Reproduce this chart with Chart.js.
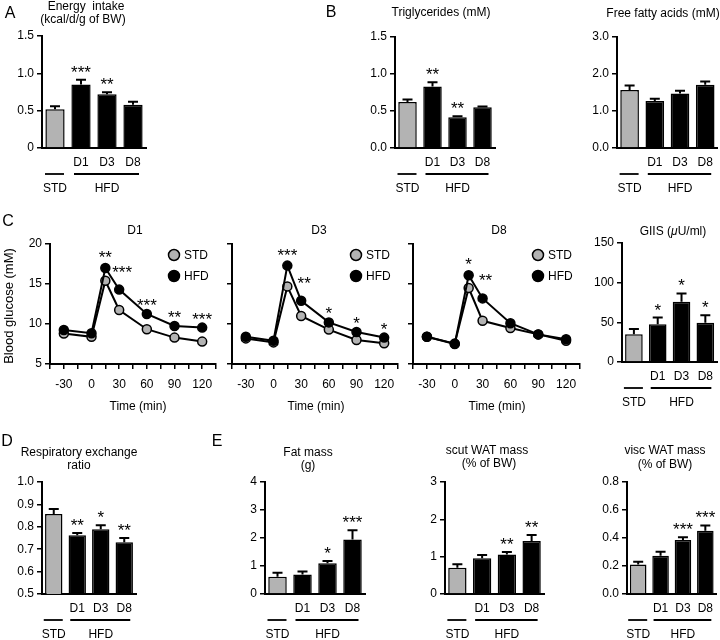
<!DOCTYPE html>
<html><head><meta charset="utf-8">
<script src="https://cdn.jsdelivr.net/npm/chart.js@4/dist/chart.umd.min.js"></script>
<style>
html,body{margin:0;padding:0;background:#fff;}
#wrap{position:relative;width:720px;height:640px;overflow:hidden;font-family:'Liberation Sans',Arial,Helvetica,sans-serif;color:#000;}
canvas{position:absolute;left:0;top:0;}
.t{position:absolute;white-space:nowrap;line-height:1;transform:translate(-50%,-50%);font-size:12px;}
.L{font-size:16px;}
</style></head><body><div id="wrap"></div>
<script>
// ---------- categories / tick labels ----------
const groups = ['STD', 'D1', 'D3', 'D8'];
const xTickLabels = ['', 'D1', 'D3', 'D8'];
const groupSpans = [['STD', 0, 0], ['HFD', 1, 3]];
const seriesNames = ['STD', 'HFD'];
const times = [-30, 0, 15, 30, 60, 90, 120];
const timeAxisTicks = [-45, -30, -15, 0, 15, 30, 45, 60, 75, 90, 105, 120, 135];
const timeTickLabels = ['', '-30', '', '0', '', '30', '', '60', '', '90', '', '120', ''];
const glucoseTicks = [5, 10, 15, 20];
const glucoseTickLabels = ['5', '10', '15', '20'];

// ---------- A: energy intake ----------
const energyIntake = [0.52, 0.85, 0.72, 0.58];
const energyIntakeErr = [0.04, 0.065, 0.025, 0.04];
const energyIntakeSig = ['', '***', '**', ''];
const energyTicks = [0, 0.5, 1.0, 1.5];
const energyTickLabels = ['0', '0.5', '1.0', '1.5'];

// ---------- B: triglycerides / FFA ----------
const triglycerides = [0.62, 0.83, 0.415, 0.55];
const triglyceridesErr = [0.035, 0.06, 0.015, 0.01];
const triglyceridesSig = ['', '**', '**', ''];
const tgTicks = [0, 0.5, 1.0, 1.5];
const tgTickLabels = ['0.0', '0.5', '1.0', '1.5'];

const ffa = [1.57, 1.27, 1.47, 1.71];
const ffaErr = [0.12, 0.06, 0.08, 0.09];
const ffaSig = ['', '', '', ''];
const ffaTicks = [0, 1, 2, 3];
const ffaTickLabels = ['0.0', '1.0', '2.0', '3.0'];

// ---------- C: glucose tolerance ----------
const d1Std = [8.8, 8.4, 15.4, 11.75, 9.35, 8.3, 7.8];
const d1Hfd = [9.25, 8.85, 17.0, 14.3, 11.25, 9.75, 9.55];
const d1Sig = ['', '', '**', '***', '***', '**', '***'];
const d3Std = [8.2, 7.7, 14.7, 11.0, 9.3, 8.0, 7.6];
const d3Hfd = [8.4, 7.9, 17.3, 12.9, 10.2, 9.0, 8.3];
const d3Sig = ['', '', '***', '**', '*', '*', '*'];
const d8Std = [8.4, 7.55, 14.5, 10.4, 9.5, 8.7, 7.9];
const d8Hfd = [8.4, 7.5, 16.1, 13.2, 10.1, 8.7, 8.1];
const d8Sig = ['', '', '*', '**', '', '', ''];

const giis = [35, 47.5, 76, 49.5];
const giisErr = [6.5, 8.5, 10.5, 9.5];
const giisSig = ['', '*', '*', '*'];
const giisTicks = [0, 50, 100, 150];
const giisTickLabels = ['0', '50', '100', '150'];

// ---------- D: RER ----------
const rer = [0.857, 0.762, 0.789, 0.731];
const rerErr = [0.023, 0.01, 0.018, 0.019];
const rerSig = ['', '**', '*', '**'];
const rerTicks = [0.5, 0.6, 0.7, 0.8, 0.9, 1.0];
const rerTickLabels = ['0.5', '0.6', '0.7', '0.8', '0.9', '1.0'];

// ---------- E: fat ----------
const fatMass = [0.62, 0.70, 1.10, 1.95];
const fatMassErr = [0.14, 0.10, 0.08, 0.33];
const fatMassSig = ['', '', '*', '***'];
const fatTicks = [0, 1, 2, 3, 4];
const fatTickLabels = ['0', '1', '2', '3', '4'];

const scutWat = [0.705, 0.955, 1.06, 1.42];
const scutWatErr = [0.09, 0.09, 0.065, 0.16];
const scutWatSig = ['', '', '**', '**'];
const scutTicks = [0, 1, 2, 3];
const scutTickLabels = ['0', '1', '2', '3'];

const viscWat = [0.21, 0.274, 0.386, 0.452];
const viscWatErr = [0.02, 0.028, 0.02, 0.038];
const viscWatSig = ['', '', '***', '***'];
const viscTicks = [0, 0.2, 0.4, 0.6, 0.8];
const viscTickLabels = ['0.0', '0.2', '0.4', '0.6', '0.8'];

// ---------- rendering ----------
const FONT = "'Liberation Sans', Arial, Helvetica, sans-serif";
Chart.defaults.font.family = FONT;
Chart.defaults.font.size = 12;
Chart.defaults.color = '#000';
const W = 720, H = 640, YW = 36, XH = 30;
const GREY = '#b3b3b3';
const wrap = document.getElementById('wrap');

function addCanvas() {
  const c = document.createElement('canvas');
  c.width = W; c.height = H;
  wrap.appendChild(c);
  return c;
}
function text(str, cx, cy, cls, extra) {
  const d = document.createElement('div');
  d.className = 't' + (cls ? ' ' + cls : '');
  d.innerHTML = str;
  d.style.left = cx + 'px'; d.style.top = cy + 'px';
  if (extra) Object.assign(d.style, extra);
  wrap.appendChild(d);
}
function pad(r) {
  return { left: r.l - YW, top: r.t, right: W - r.r, bottom: H - r.b - XH };
}
function drawStar(ctx, s, x, yc) {
  ctx.font = '17px ' + FONT;
  ctx.textAlign = 'center';
  ctx.textBaseline = 'alphabetic';
  ctx.fillStyle = '#000';
  ctx.fillText(s, x, yc + 10);
}

const barExtras = {
  id: 'barExtras',
  afterDatasetsDraw(chart, args, opts) {
    const ctx = chart.ctx, y = chart.scales.y;
    const meta = chart.getDatasetMeta(0);
    const vals = chart.data.datasets[0].data;
    ctx.save();
    ctx.strokeStyle = '#000'; ctx.lineWidth = 2; ctx.lineCap = 'butt';
    vals.forEach((v, i) => {
      const px = meta.data[i].x;
      const base = y.getPixelForValue(v);
      const top = y.getPixelForValue(v + opts.err[i]);
      ctx.beginPath();
      ctx.moveTo(px, base); ctx.lineTo(px, top);
      ctx.moveTo(px - 5, top); ctx.lineTo(px + 5, top);
      ctx.stroke();
      if (opts.sig[i]) drawStar(ctx, opts.sig[i], px, top - 12);
    });
    const b = chart.chartArea.bottom;
    ctx.font = '12px ' + FONT; ctx.textAlign = 'center'; ctx.textBaseline = 'middle';
    ctx.lineWidth = 1.8;
    groupSpans.forEach(([name, from, to]) => {
      const x0 = meta.data[from].x, x1 = meta.data[to].x;
      const a = from === to ? x0 - 10 : x0 - 7;
      const e = from === to ? x1 + 9 : x1 + 6;
      ctx.beginPath(); ctx.moveTo(a, b + 26); ctx.lineTo(e, b + 26); ctx.stroke();
      ctx.fillText(name, (x0 + x1) / 2, b + 41);
    });
    ctx.restore();
  }
};

const lineExtras = {
  id: 'lineExtras',
  afterDatasetsDraw(chart, args, opts) {
    const ctx = chart.ctx, x = chart.scales.x, y = chart.scales.y;
    const hfd = chart.data.datasets[1].data;
    let peak = 0;
    hfd.forEach((p, i) => { if (p.y > hfd[peak].y) peak = i; });
    ctx.save();
    opts.sig.forEach((s, i) => {
      if (!s) return;
      const px = x.getPixelForValue(hfd[i].x) + (i === peak + 1 ? 3 : 0);
      const off = i === peak ? 15 : (i === peak + 1 ? 22 : 13);
      drawStar(ctx, s, px, y.getPixelForValue(hfd[i].y) - off);
    });
    // legend
    const ca = chart.chartArea;
    chart.data.datasets.forEach((ds, i) => {
      const cx = ca.right - 42, cy = ca.top + 11 + 21 * i;
      ctx.beginPath(); ctx.arc(cx, cy, 5.5, 0, Math.PI * 2);
      ctx.fillStyle = ds.pointBackgroundColor; ctx.fill();
      ctx.lineWidth = 1.5; ctx.strokeStyle = '#000'; ctx.stroke();
      ctx.fillStyle = '#000'; ctx.font = '12px ' + FONT;
      ctx.textAlign = 'left'; ctx.textBaseline = 'middle';
      ctx.fillText(ds.label, cx + 10, cy + 1);
    });
    ctx.restore();
  }
};

const baseOpts = (r) => ({
  responsive: false, animation: false, events: [],
  layout: { padding: pad(r) },
  plugins: { legend: { display: false }, tooltip: { enabled: false } }
});
const yAxis = (ticks, labels) => ({
  type: 'linear', min: ticks[0], max: ticks[ticks.length - 1], beginAtZero: false,
  afterBuildTicks: s => { s.ticks = ticks.map(v => ({ value: v })); },
  afterFit: s => { s.width = YW; },
  ticks: { callback: (v, i) => labels[i], padding: 3, autoSkip: false },
  grid: { display: true, drawOnChartArea: false, drawTicks: true, tickLength: 5, color: '#000', lineWidth: 1.5 },
  border: { display: true, color: '#000', width: 2 }
});

function barChart(r, values, errs, sig, yTicks, yLabels) {
  const o = baseOpts(r);
  o.plugins.barExtras = { err: errs, sig: sig };
  o.scales = {
    x: {
      type: 'category', offset: true,
      afterFit: s => { s.height = XH; },
      ticks: { callback: (v, i) => xTickLabels[i], padding: 7, maxRotation: 0, autoSkip: false },
      grid: { display: false, drawTicks: false },
      border: { display: true, color: '#000', width: 2 }
    },
    y: yAxis(yTicks, yLabels)
  };
  new Chart(addCanvas(), {
    type: 'bar',
    data: { labels: groups, datasets: [{
      data: values,
      backgroundColor: groups.map((g, i) => i === 0 ? GREY : '#000'),
      borderColor: '#000', borderWidth: 1.5,
      barPercentage: 0.74, categoryPercentage: 1
    }] },
    options: o,
    plugins: [barExtras]
  });
}

function lineChart(r, std, hfd, sig, yLabels) {
  const o = baseOpts(r);
  o.plugins.lineExtras = { sig: sig };
  o.scales = {
    x: {
      type: 'linear', min: timeAxisTicks[0], max: timeAxisTicks[timeAxisTicks.length - 1],
      afterBuildTicks: s => { s.ticks = timeAxisTicks.map(v => ({ value: v })); },
      afterFit: s => { s.height = XH; },
      ticks: { callback: (v, i) => timeTickLabels[i], padding: 8, maxRotation: 0, autoSkip: false },
      grid: { display: true, drawOnChartArea: false, drawTicks: true, tickLength: 5, color: '#000', lineWidth: 1.5 },
      border: { display: true, color: '#000', width: 2 }
    },
    y: yAxis(glucoseTicks, yLabels)
  };
  const mk = (name, vals, fill, order) => ({
    label: name, data: times.map((t, i) => ({ x: t, y: vals[i] })),
    borderColor: '#000', borderWidth: 2, tension: 0,
    pointRadius: 4.5, pointBorderWidth: 1.5, pointBorderColor: '#000',
    pointBackgroundColor: fill, order: order, clip: false
  });
  new Chart(addCanvas(), {
    type: 'line',
    data: { datasets: [mk(seriesNames[0], std, GREY, 1), mk(seriesNames[1], hfd, '#000', 0)] },
    options: o,
    plugins: [lineExtras]
  });
}

// Row 1
barChart({ l: 42, r: 146, t: 36, b: 148 }, energyIntake, energyIntakeErr, energyIntakeSig, energyTicks, energyTickLabels);
barChart({ l: 395, r: 495, t: 37, b: 148 }, triglycerides, triglyceridesErr, triglyceridesSig, tgTicks, tgTickLabels);
barChart({ l: 617, r: 719, t: 37, b: 148 }, ffa, ffaErr, ffaSig, ffaTicks, ffaTickLabels);
// Row 2
const blank = glucoseTicks.map(() => '');
lineChart({ l: 50, r: 216, t: 244, b: 364 }, d1Std, d1Hfd, d1Sig, glucoseTickLabels);
lineChart({ l: 232, r: 398, t: 244, b: 364 }, d3Std, d3Hfd, d3Sig, blank);
lineChart({ l: 413, r: 580, t: 244, b: 364 }, d8Std, d8Hfd, d8Sig, blank);
barChart({ l: 622, r: 720, t: 243, b: 362 }, giis, giisErr, giisSig, giisTicks, giisTickLabels);
// Row 3
barChart({ l: 42, r: 136, t: 482, b: 594 }, rer, rerErr, rerSig, rerTicks, rerTickLabels);
barChart({ l: 265, r: 365, t: 482, b: 594 }, fatMass, fatMassErr, fatMassSig, fatTicks, fatTickLabels);
barChart({ l: 445, r: 544, t: 482, b: 594 }, scutWat, scutWatErr, scutWatSig, scutTicks, scutTickLabels);
barChart({ l: 627, r: 720, t: 482, b: 594 }, viscWat, viscWatErr, viscWatSig, viscTicks, viscTickLabels);

// Text
text('A', 10, 13, 'L');
text('Energy&nbsp; intake', 86, 6);
text('(kcal/d/g of BW)', 83, 19);
text('B', 331, 12, 'L');
text('Triglycerides (mM)', 441, 12);
text('Free fatty acids (mM)', 663, 13);
text('C', 8, 221, 'L');
text('D1', 135, 230);
text('D3', 319, 230);
text('D8', 499, 230);
text('GIIS (<i>μ</i>U/ml)', 673, 231);
text('Blood glucose (mM)', 8, 306, '', { transform: 'translate(-50%,-50%) rotate(-90deg)', fontSize: '13px' });
text('Time (min)', 138, 406);
text('Time (min)', 316, 406);
text('Time (min)', 497, 406);
text('D', 7, 441, 'L');
text('Respiratory exchange', 79, 452);
text('ratio', 79, 465);
text('E', 217, 441, 'L');
text('Fat mass', 308, 452);
text('(g)', 308, 465);
text('scut WAT mass', 487, 450);
text('(% of BW)', 489, 463);
text('visc WAT mass', 665, 450);
text('(% of BW)', 665, 464);
</script></body></html>
